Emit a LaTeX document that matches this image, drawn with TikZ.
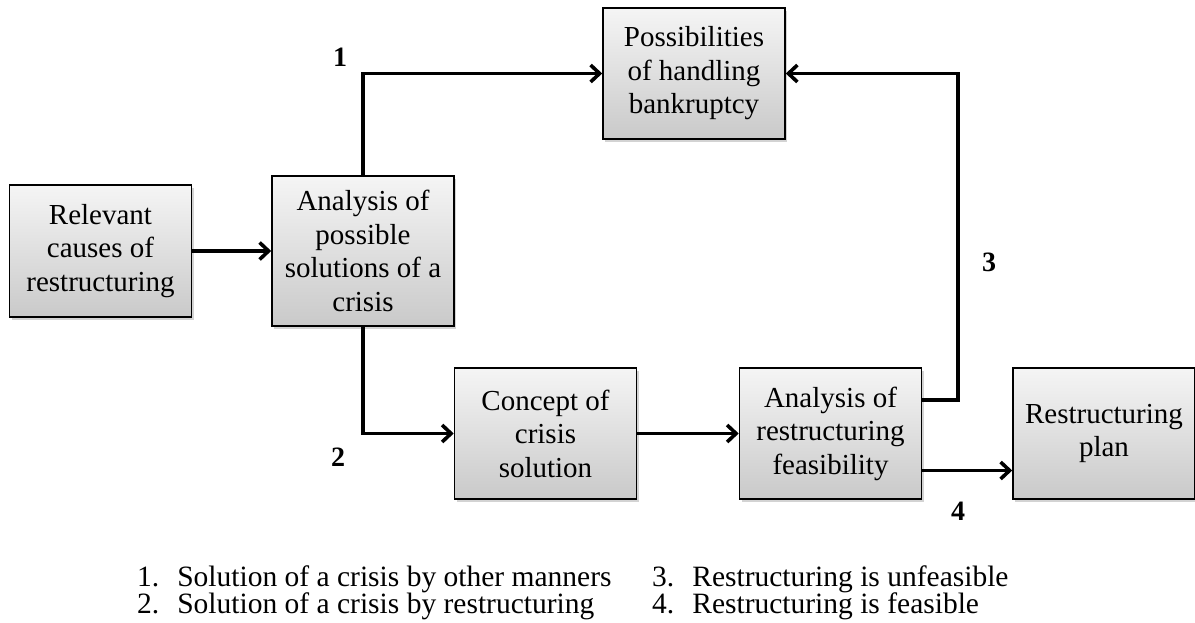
\documentclass[tikz,border=0pt]{standalone}
\usepackage{fontspec}
\setmainfont{Liberation Serif}
\usetikzlibrary{arrows.meta,shadows}
\begin{document}
\begin{tikzpicture}[x=1pt,y=-1pt,
  box/.style={draw=black, line width=1.6pt, top color=gray!8, bottom color=gray!42,
    minimum width=182pt, align=center, inner sep=0pt,
    font=\fontsize{29}{33.5}\selectfont,
    drop shadow={shadow xshift=2pt, shadow yshift=-3pt, opacity=0.35, fill=gray}},
  conn/.style={line width=3.6pt, -{Straight Barb[length=9pt,width=17pt,line width=3.6pt]}},
  num/.style={font=\fontsize{28}{33}\selectfont\bfseries, inner sep=0pt},
  leg/.style={font=\fontsize{29.5}{26}\selectfont, inner sep=0pt, anchor=base west}]
\useasboundingbox (0,0) rectangle (1195,623);
\node[box, minimum height=132pt] (A) at (100.5,251) {Relevant\\causes of\\restructuring};
\node[box, minimum height=150pt] (B) at (363,251) {Analysis of\\possible\\solutions of a\\crisis};
\node[box, minimum height=131pt] (C) at (694,73.5) {Possibilities\\of handling\\bankruptcy};
\node[box, minimum height=131pt] (D) at (545.5,433.5) {Concept of\\crisis\\solution};
\node[box, minimum height=131pt] (E) at (830.5,433.5) {Analysis of\\restructuring\\feasibility};
\node[box, minimum height=131pt] (F) at (1104,433.5) {Restructuring\\plan};

\draw[conn] (A.east) -- (B.west);
\draw[conn] (B.north) |- (C.west);
\draw[conn] (B.south) |- (D.west);
\draw[conn] (D.east) -- (E.west);
\coordinate (k3) at (958,400);
\draw[conn] ([yshift=33.5pt]E.east) -- (k3) |- (C.east);
\draw[conn] ([yshift=-37pt]E.east) -- ([yshift=-37pt]F.west);

\node[num] (n1) at (340,57) {1};
\node[num] (n2) at (338,457) {2};
\node[num] (n3) at (989,262) {3};
\node[num] (n4) at (958,511) {4};

\node[leg] (legA) at (137,600) {\begin{tabular}{@{}l@{\hspace{18pt}}l@{}}1. & Solution of a crisis by other manners\\[-2pt] 2. & Solution of a crisis by restructuring\end{tabular}};
\node[leg] (legB) at (652,600) {\begin{tabular}{@{}l@{\hspace{18pt}}l@{}}3. & Restructuring is unfeasible\\[-2pt] 4. & Restructuring is feasible\end{tabular}};
\end{tikzpicture}
\end{document}
